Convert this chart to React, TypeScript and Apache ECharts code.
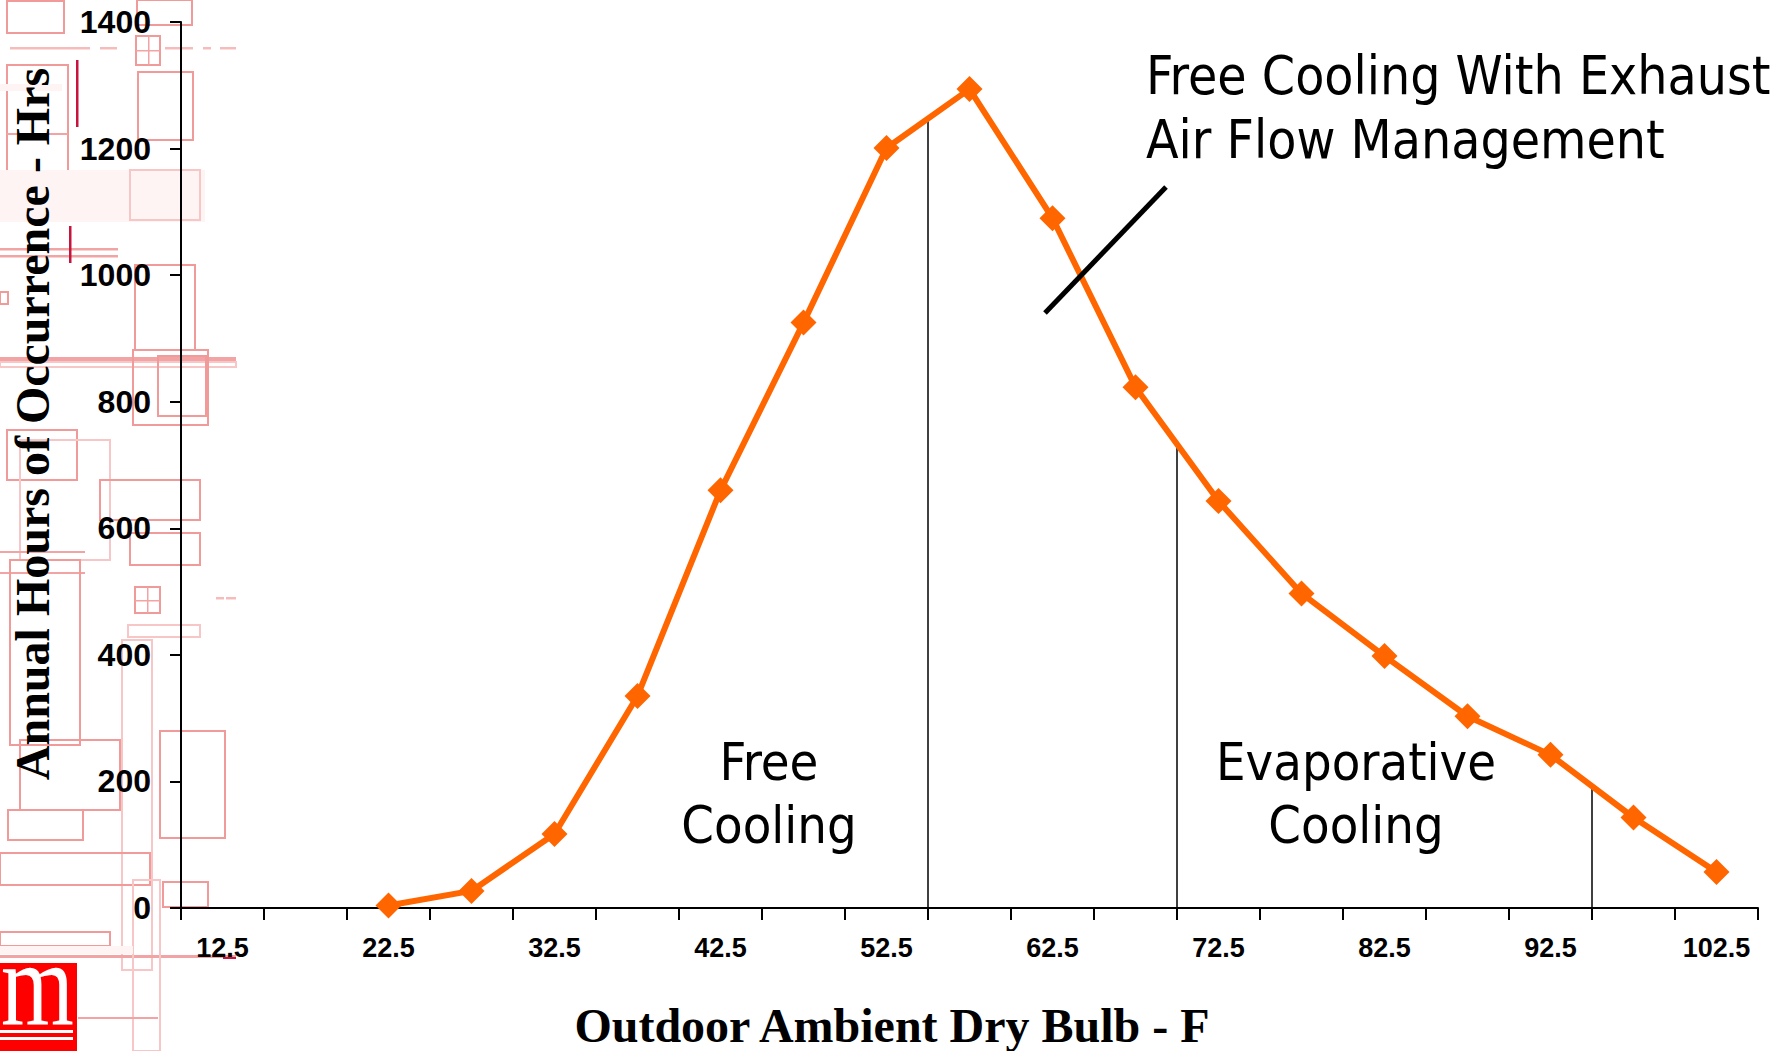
import React, { useEffect, useRef } from 'react';
import * as echarts from 'echarts';

// ---------- data ----------
const categories = ['12.5', '17.5', '22.5', '27.5', '32.5', '37.5', '42.5', '47.5', '52.5', '57.5',
  '62.5', '67.5', '72.5', '77.5', '82.5', '87.5', '92.5', '97.5', '102.5'];
const hours: (number | null)[] = [null, null, 4, 27, 117, 335, 660, 925, 1201, 1294,
  1090, 823, 643, 497, 398, 303, 242, 143, 57];
const zoneDividers = [55, 70, 95];
const firstBin = 12.5;
const binWidth = 5;
const yMin = 0;
const yMax = 1400;
const yStep = 200;

const xTitle = 'Outdoor Ambient Dry Bulb - F';
const yTitle = 'Annual Hours of Occurrence - Hrs';
const zoneLabels = ['Free\nCooling', 'Evaporative\nCooling'];
const calloutLabel = 'Free Cooling With Exhaust\nAir Flow Management';

// ---------- decoration (faded background artwork on the left) ----------
const decor: [string, number, number, number, number][] = [
  ['m', 7, 1, 57, 32], ['m', 137, 0, 55, 25], ['m', 136, 36, 24, 29],
  ['b', 148, 36, 1.5, 29], ['b', 136, 50, 24, 1.5],
  ['lf', 10, 47, 80, 2.5], ['lf', 100, 47, 17, 2.5], ['lf', 165, 47, 28, 2.5], ['lf', 203, 47, 8, 2.5], ['lf', 220, 47, 16, 2.5],
  ['m', 138, 72, 55, 68], ['m', 7, 65, 61, 125], ['b', 7, 133, 61, 2],
  ['d', 76, 60, 2.5, 67], ['f', 0, 84, 62, 7], ['f', 0, 170, 205, 52], ['l', 130, 170, 70, 50],
  ['b', 0, 248, 118, 2.5], ['b', 0, 255, 118, 2.5], ['d', 69, 226, 2.5, 37],
  ['m', 0, 292, 8, 12], ['m', 135, 265, 60, 85], ['b', 0, 357, 236, 5], ['l', 0, 362, 236, 5],
  ['m', 133, 350, 75, 75], ['m', 158, 356, 48, 60], ['m', 7, 430, 70, 50], ['l', 20, 440, 90, 120],
  ['m', 100, 480, 100, 40], ['m', 130, 533, 70, 32], ['m', 135, 587, 25, 26],
  ['b', 147, 587, 1.5, 26], ['b', 135, 600, 25, 1.5],
  ['l', 128, 625, 72, 12], ['b', 0, 551, 85, 2], ['b', 0, 572, 85, 2],
  ['m', 10, 560, 70, 185], ['l', 122, 640, 30, 330], ['m', 160, 731, 65, 107],
  ['m', 20, 740, 100, 70], ['m', 8, 810, 75, 30], ['m', 0, 853, 150, 32], ['m', 163, 882, 45, 25],
  ['b', 0, 955, 236, 3], ['l', 133, 880, 27, 171], ['b', 78, 1017, 80, 2], ['m', 0, 932, 110, 14],
  ['f', 0, 946, 133, 8], ['d', 223, 957, 13, 2], ['lf', 216, 597, 8, 2.5], ['lf', 226, 597, 10, 2.5],
];

function decorStyle(tone: string) {
  switch (tone) {
    case 'm': return { fill: 'transparent', stroke: '#f09a9a', lineWidth: 2 };
    case 'l': return { fill: 'transparent', stroke: '#f7c6c6', lineWidth: 2 };
    case 'f': return { fill: '#fef4f4' };
    case 'lf': return { fill: '#f6bcbc' };
    case 'd': return { fill: '#c8143c' };
    default: return { fill: '#f2a3a3' };
  }
}

function heightAt(t: number): number {
  const pos = (t - firstBin) / binWidth;
  const i = Math.floor(pos);
  const f = pos - i;
  const a = hours[i] ?? 0;
  const b = hours[i + 1] ?? 0;
  return a * (1 - f) + b * f;
}

export default function App() {
  const ref = useRef<HTMLDivElement>(null);

  useEffect(() => {
    if (!ref.current) return;
    const chart = echarts.init(ref.current, undefined, { renderer: 'svg' });

    const graphic: any[] = [
      {
        type: 'group',
        z: -10,
        silent: true,
        children: decor.map(([tone, x, y, w, h]) => ({
          type: 'rect',
          shape: { x, y, width: w, height: h },
          style: decorStyle(tone),
        })),
      },
      { type: 'rect', z: 5, shape: { x: 0, y: 963, width: 77, height: 88 }, style: { fill: '#ff0000' } },
      {
        type: 'text', z: 6, x: 1, y: 984, scaleX: 0.78,
        style: { text: 'm', fill: '#fff', font: '120px "Liberation Serif"', align: 'left', verticalAlign: 'middle' },
      },
      { type: 'rect', z: 6, shape: { x: 0, y: 1030, width: 73, height: 3 }, style: { fill: '#fff' } },
      { type: 'rect', z: 6, shape: { x: 0, y: 1037, width: 73, height: 3 }, style: { fill: '#fff' } },
      {
        type: 'text', z: 10, x: 1146, y: 43,
        style: {
          text: calloutLabel, fill: '#000', font: '53px "DejaVu Sans Condensed"',
          lineHeight: 64, align: 'left', verticalAlign: 'top',
        },
      },
      {
        type: 'line', z: 10,
        shape: { x1: 1045, y1: 313, x2: 1166, y2: 187 },
        style: { stroke: '#000', lineWidth: 5 },
      },
      {
        type: 'text', z: 10, x: 769, y: 730,
        style: {
          text: zoneLabels[0], fill: '#000', font: '52px "DejaVu Sans Condensed"',
          lineHeight: 63, align: 'center', verticalAlign: 'top',
        },
      },
      {
        type: 'text', z: 10, x: 1356, y: 730,
        style: {
          text: zoneLabels[1], fill: '#000', font: '52px "DejaVu Sans Condensed"',
          lineHeight: 63, align: 'center', verticalAlign: 'top',
        },
      },
    ];

    const option: any = {
      animation: false,
      backgroundColor: '#ffffff',
      grid: { left: 181, right: 23, top: 22, bottom: 143, containLabel: false, outerBoundsMode: 'none' },
      xAxis: [
        {
          type: 'category',
          data: categories,
          boundaryGap: true,
          axisLine: { show: true, lineStyle: { color: '#000', width: 2 } },
          axisTick: { show: true, interval: 0, length: 12, lineStyle: { color: '#000', width: 2 } },
          axisLabel: {
            interval: 1, color: '#000', fontFamily: 'Liberation Sans', fontWeight: 'bold',
            fontSize: 27, margin: 26,
          },
          splitLine: { show: false },
          name: xTitle,
          nameLocation: 'middle',
          nameGap: 93,
          nameMoveOverlap: false,
          nameTextStyle: {
            fontFamily: 'Liberation Serif', fontWeight: 'bold', fontSize: 48, color: '#000',
            padding: [0, 155, 0, 0],
          },
        },
        {
          type: 'value',
          show: false,
          min: firstBin - binWidth / 2,
          max: firstBin + binWidth * (categories.length - 0.5),
        },
      ],
      yAxis: {
        type: 'value',
        min: yMin,
        max: yMax,
        interval: yStep,
        axisLine: { show: true, lineStyle: { color: '#000', width: 2 } },
        axisTick: { show: true, length: 11, lineStyle: { color: '#000', width: 2 } },
        axisLabel: {
          color: '#000', fontFamily: 'Liberation Sans', fontWeight: 'bold', fontSize: 32, margin: 30,
          formatter: (v: number) => String(v),
        },
        splitLine: { show: false },
        name: yTitle,
        nameLocation: 'middle',
        nameGap: 125,
        nameRotate: 90,
        nameMoveOverlap: false,
        nameTextStyle: {
          fontFamily: 'Liberation Serif', fontWeight: 'bold', fontSize: 48, color: '#000',
          padding: [0, 0, 0, 82],
        },
      },
      series: [
        {
          type: 'lines',
          coordinateSystem: 'cartesian2d',
          xAxisIndex: 1,
          yAxisIndex: 0,
          silent: true,
          z: 1,
          lineStyle: { color: '#000', width: 1.5, opacity: 1 },
          data: zoneDividers.map((t) => ({ coords: [[t, 0], [t, heightAt(t)]] })),
        },
        {
          type: 'line',
          name: 'Hours',
          xAxisIndex: 0,
          yAxisIndex: 0,
          data: hours,
          symbol: 'diamond',
          symbolSize: 26,
          showAllSymbol: true,
          lineStyle: { color: '#FF6600', width: 6 },
          itemStyle: { color: '#FF6600' },
          z: 3,
        },
      ],
      graphic,
    };

    chart.setOption(option);
    return () => chart.dispose();
  }, []);

  return (
    <div
      ref={ref}
      style={{ position: 'absolute', left: 0, top: 0, width: 1781, height: 1051, background: '#fff' }}
    />
  );
}
